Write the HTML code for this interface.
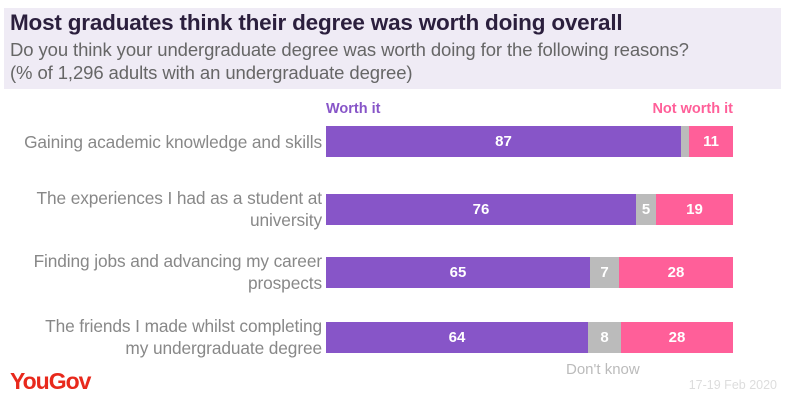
<!DOCTYPE html>
<html><head><style>
body{margin:0;width:785px;height:419px;background:#fff;font-family:"Liberation Sans",sans-serif;position:relative;overflow:hidden}
.hdr{position:absolute;left:4px;top:8px;width:777px;height:81px;background:#efebf5}
.t{position:absolute;left:10px;top:10px;font-size:22.5px;font-weight:bold;color:#2b1f3d;letter-spacing:-0.2px}
.s{position:absolute;left:10px;font-size:18.5px;color:#666;letter-spacing:-0.1px}
.lab{position:absolute;right:463px;text-align:right;font-size:17.3px;color:#888;line-height:22px;letter-spacing:-0.1px;white-space:nowrap}
.bar{position:absolute;left:326px;width:407px;height:31px;display:flex}
.bar div{height:100%;color:#fff;font-weight:bold;font-size:15px;display:flex;align-items:center;justify-content:center}
.p{background:#8755c8}.g{background:#bbb}.k{background:#ff5f99}
</style></head><body>
<div class="hdr"></div>
<div class="t">Most graduates think their degree was worth doing overall</div>
<div class="s" style="top:39px">Do you think your undergraduate degree was worth doing for the following reasons?</div>
<div class="s" style="top:62px">(% of 1,296 adults with an undergraduate degree)</div>
<div style="position:absolute;left:326px;top:101px;font-size:14.5px;font-weight:bold;color:#8755c8">Worth it</div>
<div style="position:absolute;right:52px;top:101px;font-size:14.5px;font-weight:bold;color:#ff5f99">Not worth it</div>
<div class="lab" style="top:131px">Gaining academic knowledge and skills</div>
<div class="bar" style="top:126px"><div class="p" style="width:355px">87</div><div class="g" style="width:8px"></div><div class="k" style="flex:1">11</div></div>
<div class="lab" style="top:187px">The experiences I had as a student at<br>university</div>
<div class="bar" style="top:194px"><div class="p" style="width:310px">76</div><div class="g" style="width:20px">5</div><div class="k" style="flex:1">19</div></div>
<div class="lab" style="top:250px">Finding jobs and advancing my career<br>prospects</div>
<div class="bar" style="top:257px"><div class="p" style="width:264px">65</div><div class="g" style="width:29px">7</div><div class="k" style="flex:1">28</div></div>
<div class="lab" style="top:315px">The friends I made whilst completing<br>my undergraduate degree</div>
<div class="bar" style="top:322px"><div class="p" style="width:262px">64</div><div class="g" style="width:33px">8</div><div class="k" style="flex:1">28</div></div>
<div style="position:absolute;left:566px;top:361px;font-size:15px;color:#bbb">Don't know</div>
<div style="position:absolute;left:10px;top:368px;font-size:23px;font-weight:bold;color:#e8291c;letter-spacing:-1px">YouGov</div>
<div style="position:absolute;right:8px;top:378px;font-size:12.5px;color:#ddd">17-19 Feb 2020</div>
</body></html>
